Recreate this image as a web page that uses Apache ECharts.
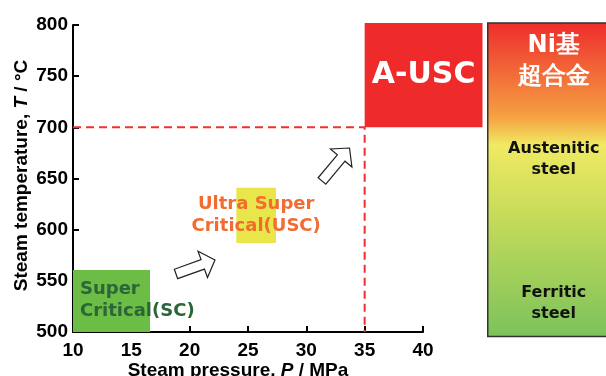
<!DOCTYPE html>
<html>
<head>
<meta charset="utf-8">
<script src="https://cdn.jsdelivr.net/npm/echarts@6/dist/echarts.min.js"></script>
<style>
html,body{margin:0;padding:0;background:#fff;}
#chart{width:606px;height:376px;}
</style>
</head>
<body>
<div id="chart"></div>
<script>
// ---- data ----
var xTicks = [10, 15, 20, 25, 30, 35, 40];
var yTicks = [500, 550, 600, 650, 700, 750, 800];
var regionNames = ['Super\nCritical(SC)', 'Ultra Super\nCritical(USC)', 'A-USC'];
var regionPMin = [10, 24, 35];
var regionPMax = [16.6, 27.4, 45.1];
var regionTMin = [500, 587, 700];
var regionTMax = [560.5, 641, 802];
var limitP = [10, 35, 35];
var limitT = [700, 700, 500];
var arrowFromP = [18.83, 31.34];
var arrowFromT = [556.7, 647.6];
var arrowToP = [22.17, 33.70];
var arrowToT = [570.4, 679.8];
var panelP = [45.55, 58];
var panelT = [495.5, 802];
var materialNames = ['Ni基\n超合金', 'Austenitic\nsteel', 'Ferritic\nsteel'];
var materialT = [765, 668.5, 528];

// ---- styles ----
var regionFill = ['#6cbd45', '#e8e64a', '#ee2a2a'];
var regionText = ['#2b6538', '#f26b30', '#ffffff'];
var regionFont = [18, 18, 30];
var materialText = ['#ffffff', '#111111', '#111111'];
var materialFont = [24, 16, 16];
var FF = '"DejaVu Sans", Verdana, sans-serif';
var AF = '"Liberation Sans", Arial, sans-serif';

var chart = echarts.init(document.getElementById('chart'), null, {renderer: 'canvas'});

var regionData = regionNames.map(function (n, i) {
  return [regionPMin[i], regionTMin[i], regionPMax[i], regionTMax[i], i];
});
var arrowData = arrowFromP.map(function (p, i) {
  return [p, arrowFromT[i], arrowToP[i], arrowToT[i]];
});
var materialData = materialNames.map(function (n, i) {
  return [panelP[0], materialT[i], i];
});

function renderRegion(params, api) {
  var i = api.value(4);
  var p0 = api.coord([api.value(0), api.value(1)]);
  var p1 = api.coord([api.value(2), api.value(3)]);
  var x = p0[0], y = p1[1], w = p1[0] - p0[0], h = p0[1] - p1[1];
  var tx, align;
  if (i === 0) { tx = x + 7; align = 'left'; } else { tx = x + w / 2; align = 'center'; }
  var ty = y + h / 2 - (i === 0 ? 1 : 0);
  return {
    type: 'group',
    children: [
      {type: 'rect', shape: {x: x, y: y, width: w, height: h}, style: {fill: regionFill[i]}},
      {type: 'text', z2: 10, style: {
        text: regionNames[i], x: tx, y: ty, align: align, verticalAlign: 'middle',
        fill: regionText[i], font: 'bold ' + regionFont[i] + 'px ' + FF,
        lineHeight: i === 2 ? 34 : 22
      }}
    ]
  };
}

function renderArrow(params, api) {
  var s = api.coord([api.value(0), api.value(1)]);
  var e = api.coord([api.value(2), api.value(3)]);
  var dx = e[0] - s[0], dy = e[1] - s[1];
  var len = Math.sqrt(dx * dx + dy * dy);
  var ux = dx / len, uy = dy / len;
  var nx = -uy, ny = ux;
  var w = 5, hw = 14, hl = 13;
  var bx = e[0] - ux * hl, by = e[1] - uy * hl;
  var pts = [
    [s[0] + nx * w, s[1] + ny * w],
    [bx + nx * w, by + ny * w],
    [bx + nx * hw, by + ny * hw],
    [e[0], e[1]],
    [bx - nx * hw, by - ny * hw],
    [bx - nx * w, by - ny * w],
    [s[0] - nx * w, s[1] - ny * w]
  ];
  return {type: 'polygon', shape: {points: pts}, style: {fill: '#ffffff', stroke: '#222222', lineWidth: 1.2}};
}

function renderPanel(params, api) {
  var p0 = api.coord([panelP[0], panelT[0]]);
  var p1 = api.coord([panelP[1], panelT[1]]);
  return {
    type: 'rect',
    shape: {x: p0[0], y: p1[1], width: p1[0] - p0[0], height: p0[1] - p1[1]},
    style: {
      fill: new echarts.graphic.LinearGradient(0, 0, 0, 1, [
        {offset: 0, color: '#ee2c2c'},
        {offset: 0.3, color: '#f5a042'},
        {offset: 0.39, color: '#f0ea62'},
        {offset: 0.6, color: '#c9dc5a'},
        {offset: 1, color: '#7bc25a'}
      ]),
      stroke: '#333333', lineWidth: 1.5
    }
  };
}

function renderMaterial(params, api) {
  var i = api.value(2);
  var pL = api.coord([panelP[0], api.value(1)]);
  var pR = api.coord([panelP[1], api.value(1)]);
  var cx = Math.min((pL[0] + pR[0]) / 2, pL[0] + 66);
  return {
    type: 'text', z2: 20,
    style: {
      text: materialNames[i], x: cx, y: pL[1], align: 'center', verticalAlign: 'middle',
      fill: materialText[i], font: 'bold ' + materialFont[i] + 'px ' + FF,
      lineHeight: i === 0 ? 31 : 21
    }
  };
}

var option = {
  animation: false,
  backgroundColor: '#ffffff',
  grid: {left: 73, right: 183, top: 25, bottom: 44, containLabel: false, outerBoundsMode: 'none'},
  xAxis: {
    type: 'value', min: 10, max: 40, interval: 5,
    name: 'Steam pressure, {i|P} / MPa',
    nameLocation: 'middle', nameGap: 29, nameMoveOverlap: false,
    nameTextStyle: {
      color: '#000', fontSize: 19, fontWeight: 'bold', fontFamily: AF, padding: [0, 20, 0, 0],
      rich: {i: {fontStyle: 'italic', fontSize: 19, fontWeight: 'bold', fontFamily: AF, color: '#000'}}
    },
    axisLine: {lineStyle: {color: '#000', width: 2}},
    axisTick: {inside: true, length: 6, lineStyle: {color: '#000', width: 2}},
    axisLabel: {color: '#000', fontSize: 19, fontWeight: 'bold', fontFamily: AF, margin: 9,
      formatter: function (v) { return xTicks.indexOf(v) >= 0 ? String(v) : ''; }},
    splitLine: {show: false}
  },
  yAxis: {
    type: 'value', min: 500, max: 800, interval: 50,
    name: 'Steam temperature, {i|T} / °C',
    nameLocation: 'middle', nameGap: 42, nameRotate: 90, nameMoveOverlap: false,
    nameTextStyle: {
      color: '#000', fontSize: 19, fontWeight: 'bold', fontFamily: AF, padding: [0, 0, 0, 6],
      rich: {i: {fontStyle: 'italic', fontSize: 19, fontWeight: 'bold', fontFamily: AF, color: '#000'}}
    },
    axisLine: {show: true, lineStyle: {color: '#000', width: 2}},
    axisTick: {show: true, inside: true, length: 6, lineStyle: {color: '#000', width: 2}},
    axisLabel: {color: '#000', fontSize: 19, fontWeight: 'bold', fontFamily: AF, margin: 5,
      formatter: function (v) { return yTicks.indexOf(v) >= 0 ? String(v) : ''; }},
    splitLine: {show: false}
  },
  series: [
    {type: 'custom', clip: false, z: 1, renderItem: renderPanel, data: [[panelP[0], panelT[0]]], silent: true},
    {type: 'custom', clip: false, z: 3, renderItem: renderMaterial, data: materialData, silent: true},
    {type: 'custom', clip: false, z: 2, renderItem: renderRegion, data: regionData, silent: true},
    {type: 'line', z: 4, data: limitP.map(function (p, i) { return [p, limitT[i]]; }),
      symbol: 'none', lineStyle: {color: '#f03030', width: 2, type: [8, 5]}, silent: true},
    {type: 'custom', clip: false, z: 5, renderItem: renderArrow, data: arrowData, silent: true}
  ]
};
chart.setOption(option);
</script>
</body>
</html>
